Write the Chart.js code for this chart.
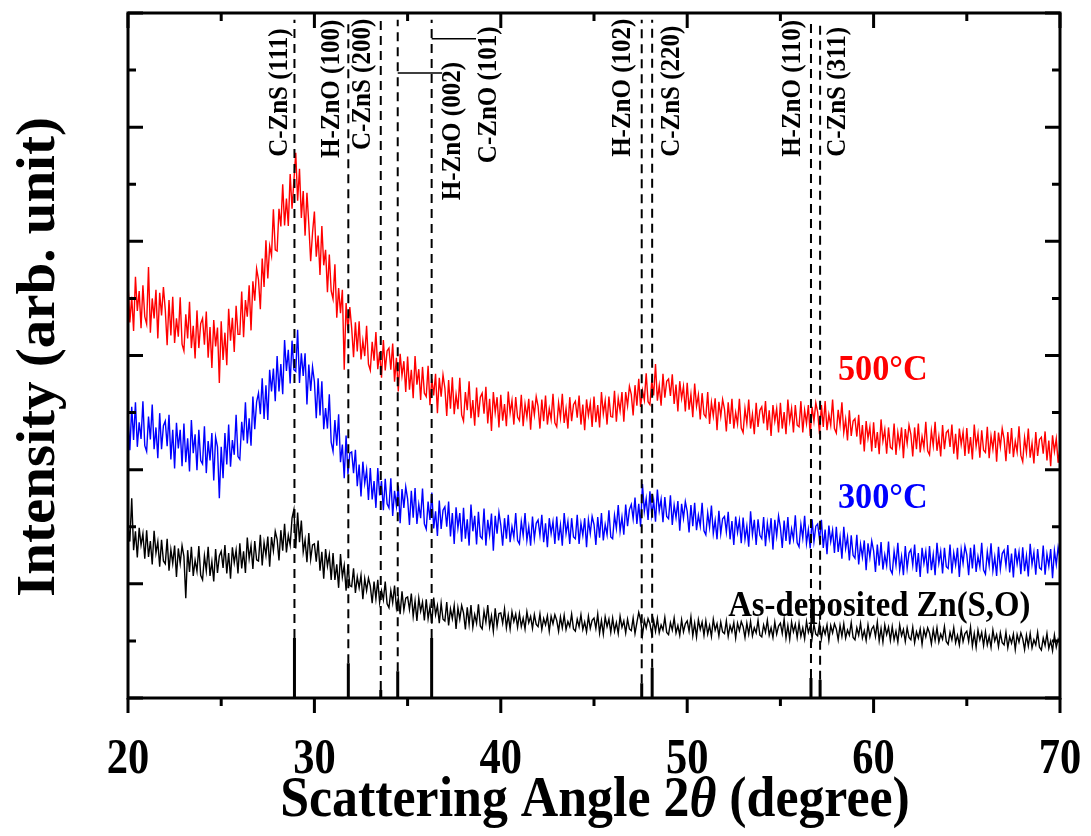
<!DOCTYPE html>
<html>
<head>
<meta charset="utf-8">
<script src="https://cdn.jsdelivr.net/npm/chart.js@4.4.1/dist/chart.umd.min.js"></script>
<style>
  html, body { margin: 0; padding: 0; background: #fff; }
  #wrap { position: relative; width: 1091px; height: 836px; }
</style>
</head>
<body>
<div id="wrap"><canvas id="xrdChart"></canvas></div>
<script>
// scan grid (degrees 2theta)
const angleStart = 20;
const angleStep = 0.1;

// intensities, one row per degree
const intensity500 = [
    728, 658, 703, 643, 738, 678, 713, 648, 723, 668,
    655, 755, 640, 700, 665, 715, 630, 710, 670, 720,
    680, 618, 697, 635, 703, 622, 665, 633, 702, 620,
    608, 672, 630, 694, 613, 652, 595, 679, 613, 656,
    665, 619, 677, 596, 650, 578, 662, 616, 649, 552,
    660, 592, 640, 583, 682, 626, 666, 606, 687, 637,
    637, 712, 632, 697, 668, 723, 644, 730, 696, 752,
    733, 681, 770, 720, 802, 735, 792, 775, 856, 785,
    783, 857, 826, 900, 828, 875, 827, 918, 857, 906,
    955, 871, 927, 841, 888, 810, 885, 830, 765, 815,
    852, 773, 810, 741, 827, 758, 785, 711, 777, 713,
    699, 760, 666, 718, 674, 715, 575, 692, 644, 685,
    648, 597, 658, 607, 660, 593, 626, 599, 652, 585,
    574, 624, 591, 641, 576, 606, 561, 627, 574, 608,
    613, 575, 621, 554, 596, 537, 603, 565, 590, 536,
    598, 540, 575, 525, 599, 549, 576, 522, 580, 534,
    528, 582, 513, 559, 530, 568, 499, 561, 528, 566,
    543, 494, 557, 507, 562, 497, 532, 506, 561, 496,
    485, 536, 504, 555, 490, 522, 477, 544, 492, 527,
    534, 498, 545, 481, 524, 468, 536, 500, 527, 474,
    531, 486, 515, 476, 537, 499, 521, 479, 527, 492,
    486, 531, 476, 515, 492, 524, 470, 521, 496, 528,
    511, 472, 523, 485, 530, 479, 507, 488, 533, 482,
    475, 517, 491, 533, 482, 507, 472, 527, 485, 514,
    520, 491, 530, 479, 514, 469, 523, 495, 517, 475,
    528, 483, 513, 474, 536, 498, 521, 479, 528, 493,
    492, 538, 484, 525, 503, 536, 484, 536, 512, 546,
    532, 495, 548, 512, 559, 510, 539, 522, 569, 519,
    514, 556, 530, 585, 521, 547, 512, 568, 526, 555,
    559, 529, 567, 515, 549, 502, 555, 525, 546, 502,
    552, 505, 532, 492, 551, 511, 531, 488, 534, 497,
    492, 536, 480, 518, 494, 525, 469, 519, 493, 523,
    506, 467, 518, 480, 524, 472, 500, 480, 524, 473,
    465, 507, 481, 523, 472, 497, 462, 517, 475, 504,
    510, 481, 520, 469, 504, 459, 513, 485, 507, 465,
    517, 472, 501, 462, 523, 485, 507, 465, 513, 478,
    475, 520, 465, 504, 481, 513, 459, 510, 485, 517,
    501, 462, 513, 475, 520, 469, 497, 478, 523, 472,
    464, 505, 478, 518, 465, 488, 451, 504, 459, 485,
    489, 458, 496, 444, 478, 432, 485, 455, 475, 432,
    483, 438, 466, 427, 488, 450, 470, 428, 474, 439,
    436, 481, 426, 465, 442, 474, 420, 471, 446, 478,
    462, 423, 474, 436, 481, 430, 458, 439, 484, 433,
    426, 468, 442, 484, 433, 458, 423, 478, 436, 465,
    469, 440, 479, 428, 463, 418, 472, 444, 466, 424,
    473, 428, 457, 418, 479, 441, 463, 421, 469, 434,
    430, 475, 420, 459, 436, 468, 414, 465, 440, 472,
    454, 415, 466, 428, 473, 422, 450, 431, 476, 425,
    414, 456, 430, 472, 421, 446, 411, 466, 424, 453,
    457, 428, 467, 416, 451, 406, 460, 432, 454, 412,
    440
];

const intensity300 = [
    492, 434, 510, 452, 518, 440, 483, 454, 520, 442,
    432, 493, 453, 514, 436, 474, 420, 499, 436, 477,
    485, 441, 496, 418, 470, 402, 482, 437, 470, 406,
    481, 413, 455, 397, 487, 429, 462, 399, 470, 416,
    410, 476, 394, 450, 416, 464, 381, 457, 440, 350,
    440, 385, 464, 409, 479, 405, 452, 426, 496, 423,
    418, 484, 451, 518, 446, 490, 442, 528, 471, 519,
    534, 497, 560, 489, 548, 487, 575, 537, 577, 520,
    599, 537, 585, 532, 627, 573, 610, 551, 626, 575,
    572, 645, 552, 604, 564, 604, 514, 584, 538, 580,
    554, 490, 560, 495, 555, 471, 508, 472, 532, 448,
    432, 487, 442, 497, 413, 444, 385, 460, 392, 429,
    431, 394, 435, 371, 409, 353, 414, 376, 399, 347,
    403, 348, 380, 333, 403, 355, 380, 329, 384, 340,
    333, 385, 319, 363, 336, 372, 306, 366, 333, 370,
    349, 303, 363, 316, 368, 305, 339, 315, 367, 305,
    296, 344, 312, 360, 297, 327, 284, 346, 296, 329,
    335, 300, 344, 283, 324, 270, 334, 298, 324, 274,
    333, 279, 313, 267, 339, 292, 319, 269, 326, 283,
    279, 332, 267, 312, 286, 323, 258, 319, 288, 325,
    303, 267, 315, 279, 321, 273, 300, 282, 324, 276,
    270, 309, 285, 324, 276, 300, 267, 318, 279, 306,
    312, 285, 321, 273, 306, 264, 315, 288, 309, 270,
    318, 276, 303, 267, 324, 288, 309, 270, 315, 282,
    279, 321, 270, 306, 285, 315, 264, 312, 288, 318,
    304, 268, 317, 281, 324, 276, 304, 286, 329, 282,
    279, 320, 297, 338, 292, 317, 286, 339, 301, 330,
    339, 314, 351, 305, 340, 300, 375, 327, 349, 312,
    362, 320, 346, 309, 365, 328, 348, 308, 352, 318,
    314, 355, 303, 338, 316, 345, 293, 340, 315, 344,
    327, 290, 338, 301, 342, 294, 320, 301, 342, 293,
    286, 324, 299, 337, 288, 311, 278, 328, 288, 314,
    318, 291, 326, 278, 310, 268, 318, 290, 311, 271,
    316, 278, 301, 265, 327, 286, 312, 268, 313, 285,
    279, 317, 266, 306, 281, 315, 260, 312, 284, 319,
    299, 263, 311, 275, 317, 269, 296, 278, 320, 272,
    265, 304, 280, 319, 271, 295, 262, 313, 274, 301,
    305, 277, 312, 263, 295, 252, 302, 274, 294, 254,
    300, 256, 282, 244, 300, 262, 282, 241, 285, 250,
    245, 286, 234, 269, 247, 276, 224, 271, 246, 275,
    258, 221, 269, 232, 273, 225, 251, 232, 274, 225,
    218, 257, 233, 272, 224, 248, 215, 266, 227, 254,
    260, 233, 269, 221, 254, 212, 263, 236, 257, 218,
    266, 224, 251, 215, 272, 236, 257, 218, 263, 230,
    227, 269, 218, 254, 233, 263, 212, 260, 236, 266,
    251, 215, 263, 227, 269, 221, 248, 230, 272, 224,
    217, 256, 232, 271, 223, 247, 214, 265, 226, 253,
    259, 232, 268, 220, 253, 211, 262, 235, 256, 217,
    264, 222, 249, 213, 270, 234, 255, 216, 261, 228,
    225, 267, 216, 252, 231, 261, 210, 258, 234, 264,
    245
];

const intensityAsDep = [
    305, 274, 350, 259, 292, 246, 298, 268, 288, 244,
    294, 247, 275, 234, 293, 254, 274, 230, 277, 240,
    235, 279, 223, 260, 236, 267, 212, 262, 236, 267,
    248, 175, 259, 221, 265, 214, 241, 222, 266, 215,
    207, 249, 223, 265, 214, 239, 204, 261, 219, 249,
    257, 228, 268, 218, 254, 209, 264, 237, 259, 218,
    271, 227, 257, 219, 281, 244, 267, 226, 275, 242,
    240, 286, 232, 272, 250, 283, 230, 282, 258, 292,
    278, 241, 294, 258, 305, 255, 285, 268, 315, 330,
    262, 325, 273, 311, 256, 277, 238, 289, 243, 268,
    270, 239, 276, 223, 256, 209, 261, 231, 251, 207,
    254, 207, 234, 193, 252, 212, 232, 188, 234, 197,
    195, 227, 184, 212, 193, 215, 173, 209, 188, 210,
    196, 166, 204, 174, 207, 167, 188, 172, 204, 165,
    158, 188, 167, 197, 158, 175, 147, 187, 154, 175,
    177, 155, 183, 143, 170, 135, 175, 152, 168, 136,
    173, 139, 160, 130, 176, 146, 162, 131, 166, 138,
    135, 168, 127, 156, 139, 162, 121, 158, 138, 162,
    149, 120, 159, 129, 163, 124, 146, 131, 164, 126,
    121, 152, 133, 163, 125, 144, 117, 157, 126, 148,
    149, 131, 156, 123, 145, 121, 151, 134, 147, 124,
    148, 125, 140, 121, 151, 132, 143, 122, 146, 129,
    125, 147, 120, 139, 128, 144, 117, 143, 130, 146,
    136, 117, 142, 123, 145, 120, 134, 125, 147, 121,
    117, 138, 125, 146, 120, 133, 116, 143, 122, 136,
    140, 122, 147, 114, 136, 112, 142, 125, 138, 115,
    140, 117, 132, 113, 143, 124, 135, 114, 138, 121,
    118, 140, 113, 132, 150, 137, 110, 136, 123, 139,
    130, 111, 136, 117, 139, 114, 128, 119, 141, 115,
    111, 132, 119, 140, 114, 127, 110, 137, 116, 130,
    135, 117, 142, 109, 131, 107, 137, 120, 133, 110,
    135, 112, 127, 108, 138, 119, 130, 109, 133, 116,
    113, 135, 108, 127, 116, 132, 105, 131, 118, 134,
    125, 106, 131, 112, 134, 109, 123, 114, 136, 110,
    107, 128, 115, 136, 110, 123, 106, 133, 112, 126,
    131, 113, 138, 105, 127, 103, 133, 116, 129, 106,
    131, 108, 123, 104, 134, 115, 126, 105, 129, 112,
    109, 131, 104, 123, 112, 128, 101, 127, 114, 130,
    121, 102, 127, 108, 130, 105, 119, 110, 132, 106,
    102, 123, 110, 131, 105, 118, 101, 128, 107, 121,
    126, 108, 133, 100, 122, 98, 128, 111, 124, 101,
    125, 102, 117, 98, 128, 109, 120, 99, 123, 106,
    102, 124, 97, 116, 105, 121, 94, 120, 107, 123,
    114, 95, 120, 101, 123, 98, 112, 103, 125, 99,
    94, 115, 102, 123, 97, 110, 93, 120, 99, 113,
    117, 99, 124, 91, 113, 89, 119, 102, 115, 92,
    116, 93, 108, 89, 119, 100, 111, 90, 114, 97,
    93, 115, 88, 107, 96, 112, 85, 111, 98, 114,
    104, 85, 110, 91, 113, 88, 102, 93, 115, 89,
    84, 105, 92, 113, 87, 100, 83, 110, 89, 103,
    96
];

const seriesNames = ['500\u00B0C', '300\u00B0C', 'As-deposited Zn(S,O)'];
const seriesColors = ['#ff0000', '#0000ff', '#000000'];

// reference reflections (JCPDS sticks)
const peakNames = ['C-ZnS (111)', 'H-ZnO (100)', 'C-ZnS (200)', 'H-ZnO (002)', 'C-ZnO (101)',
    'H-ZnO (102)', 'C-ZnS (220)', 'H-ZnO (110)', 'C-ZnS (311)'];
const peakAngles = [28.93, 31.82, 33.56, 34.47, 36.29, 47.56, 48.12, 56.64, 57.13];
const peakHeights = [105, 61, 14, 47, 105, 26, 53, 35, 32];

const xTickLabels = ['20', '30', '40', '50', '60', '70'];
const xMinorStep = 5;
const yMinorStep = 100;

const SERIF = "'Liberation Serif', 'Times New Roman', serif";
const refLineTop = 1188;

function toPoints(values) {
    return values.map((v, i) => ({ x: Math.round((angleStart + i * angleStep) * 10) / 10, y: v }));
}

function stickPoints(fromTop) {
    const pts = [];
    peakAngles.forEach((a, i) => {
        if (fromTop) {
            pts.push({ x: a, y: peakHeights[i] }, { x: a, y: refLineTop });
        } else {
            pts.push({ x: a, y: 0 }, { x: a, y: peakHeights[i] });
        }
        pts.push({ x: a, y: null });
    });
    return pts;
}

// draw text runs, optionally rotated and squeezed like the original figure
function putText(ctx, runs, x, y, opt) {
    ctx.save();
    ctx.translate(x, y);
    if (opt.rotate) ctx.rotate(opt.rotate);
    ctx.scale(opt.sx || 1, opt.sy || 1);
    ctx.fillStyle = opt.color || '#000';
    ctx.textBaseline = opt.baseline || 'alphabetic';
    ctx.textAlign = 'left';
    let total = 0;
    runs.forEach(([t, f]) => { ctx.font = f; total += ctx.measureText(t).width; });
    let cx = 0;
    if (opt.align === 'center') cx = -total / 2;
    if (opt.align === 'right') cx = -total;
    runs.forEach(([t, f]) => {
        ctx.font = f;
        ctx.fillText(t, cx, 0);
        cx += ctx.measureText(t).width;
    });
    ctx.restore();
}

const framePlugin = {
    id: 'frame',
    afterDatasetsDraw(chart) {
        const { ctx, chartArea: a, scales: { x, y } } = chart;
        ctx.save();
        ctx.strokeStyle = '#000';
        ctx.lineWidth = 3;
        ctx.beginPath();
        for (let v = y.min; v <= y.max; v += yMinorStep) {
            const py = y.getPixelForValue(v);
            const len = v % (2 * yMinorStep) === 0 ? 15 : 8;
            ctx.moveTo(a.left, py); ctx.lineTo(a.left + len, py);
            ctx.moveTo(a.right, py); ctx.lineTo(a.right - len, py);
        }
        for (let v = x.min; v <= x.max; v += xMinorStep) {
            const px = x.getPixelForValue(v);
            const len = v % (2 * xMinorStep) === 0 ? 15 : 8;
            ctx.moveTo(px, a.top); ctx.lineTo(px, a.top + len);
            ctx.moveTo(px, a.bottom); ctx.lineTo(px, a.bottom + len);
        }
        ctx.stroke();
        ctx.strokeRect(a.left, a.top, a.right - a.left, a.bottom - a.top);

        // leader lines for the two crowded labels
        ctx.lineWidth = 1.5;
        ctx.beginPath();
        ctx.moveTo(x.getPixelForValue(peakAngles[3]), y.getPixelForValue(1095));
        ctx.lineTo(x.getPixelForValue(36.85), y.getPixelForValue(1095));
        ctx.moveTo(x.getPixelForValue(peakAngles[4]), y.getPixelForValue(1155));
        ctx.lineTo(x.getPixelForValue(38.67), y.getPixelForValue(1155));
        ctx.stroke();
        ctx.restore();
    },
    afterDraw(chart) {
        const { ctx, chartArea: a, scales: { x, y } } = chart;
        const bold = (px) => `bold ${px}px ${SERIF}`;

        // x tick labels
        xTickLabels.forEach((t) => {
            putText(ctx, [[t, bold(50)]], x.getPixelForValue(Number(t)), a.bottom + 75,
                { align: 'center', sx: 0.85 });
        });

        // axis titles
        putText(ctx, [['Scattering Angle 2', bold(57)], ['\u03B8', `italic bold 57px ${SERIF}`], [' (degree)', bold(57)]],
            (a.left + a.right) / 2 + 1, a.bottom + 118, { align: 'center', sx: 0.91 });
        putText(ctx, [['Intensity (arb. unit)', bold(57)]], 54, 357,
            { align: 'center', rotate: -Math.PI / 2, sy: 0.95 });

        // reflection labels (bottom anchor in data units)
        const labelSpots = [[28.15, 948], [30.94, 946], [32.61, 960], [37.44, 872], [39.37, 937],
            [46.56, 948], [49.18, 948], [55.67, 948], [58.09, 948]];
        peakNames.forEach((name, i) => {
            const [lx, ly] = labelSpots[i];
            putText(ctx, [[name, bold(25)]], x.getPixelForValue(lx), y.getPixelForValue(ly),
                { rotate: -Math.PI / 2, baseline: 'middle', sy: 1.1 });
        });

        // curve labels
        const nameSpots = [[58.09, 557], [58.09, 333], [52.2, 144]];
        seriesNames.forEach((name, i) => {
            const [lx, ly] = nameSpots[i];
            putText(ctx, [[name, bold(36)]], x.getPixelForValue(lx), y.getPixelForValue(ly),
                { color: seriesColors[i], sx: i === 2 ? 0.91 : 0.95 });
        });
    },
};

function buildChart() {
    const ctx = document.getElementById('xrdChart').getContext('2d');
    const series = [intensity500, intensity300, intensityAsDep];

    const curveSets = series.map((values, i) => ({
        label: seriesNames[i],
        data: toPoints(values),
        borderColor: seriesColors[i],
        borderWidth: 1.4,
        pointRadius: 0,
        order: i + 1,
    }));

    return new Chart(ctx, {
        type: 'line',
        data: {
            datasets: [
                {
                    label: 'sticks',
                    data: stickPoints(false),
                    borderColor: '#000',
                    borderWidth: 3,
                    pointRadius: 0,
                    spanGaps: false,
                    order: 0,
                },
                {
                    label: 'reference lines',
                    data: stickPoints(true),
                    borderColor: '#000',
                    borderWidth: 2,
                    borderDash: [9, 6],
                    pointRadius: 0,
                    spanGaps: false,
                    order: 0,
                },
                ...curveSets,
            ],
        },
        options: {
            responsive: true,
            maintainAspectRatio: false,
            animation: false,
            events: [],
            layout: { padding: { left: 128, right: 31, top: 13, bottom: 138 } },
            plugins: {
                legend: { display: false },
                tooltip: { enabled: false },
            },
            elements: { line: { tension: 0 } },
            scales: {
                x: { type: 'linear', min: 20, max: 70, display: false },
                y: { type: 'linear', min: 0, max: 1200, display: false },
            },
        },
        plugins: [framePlugin],
    });
}

document.addEventListener('DOMContentLoaded', () => {
    buildChart();
});
</script>
</body>
</html>
